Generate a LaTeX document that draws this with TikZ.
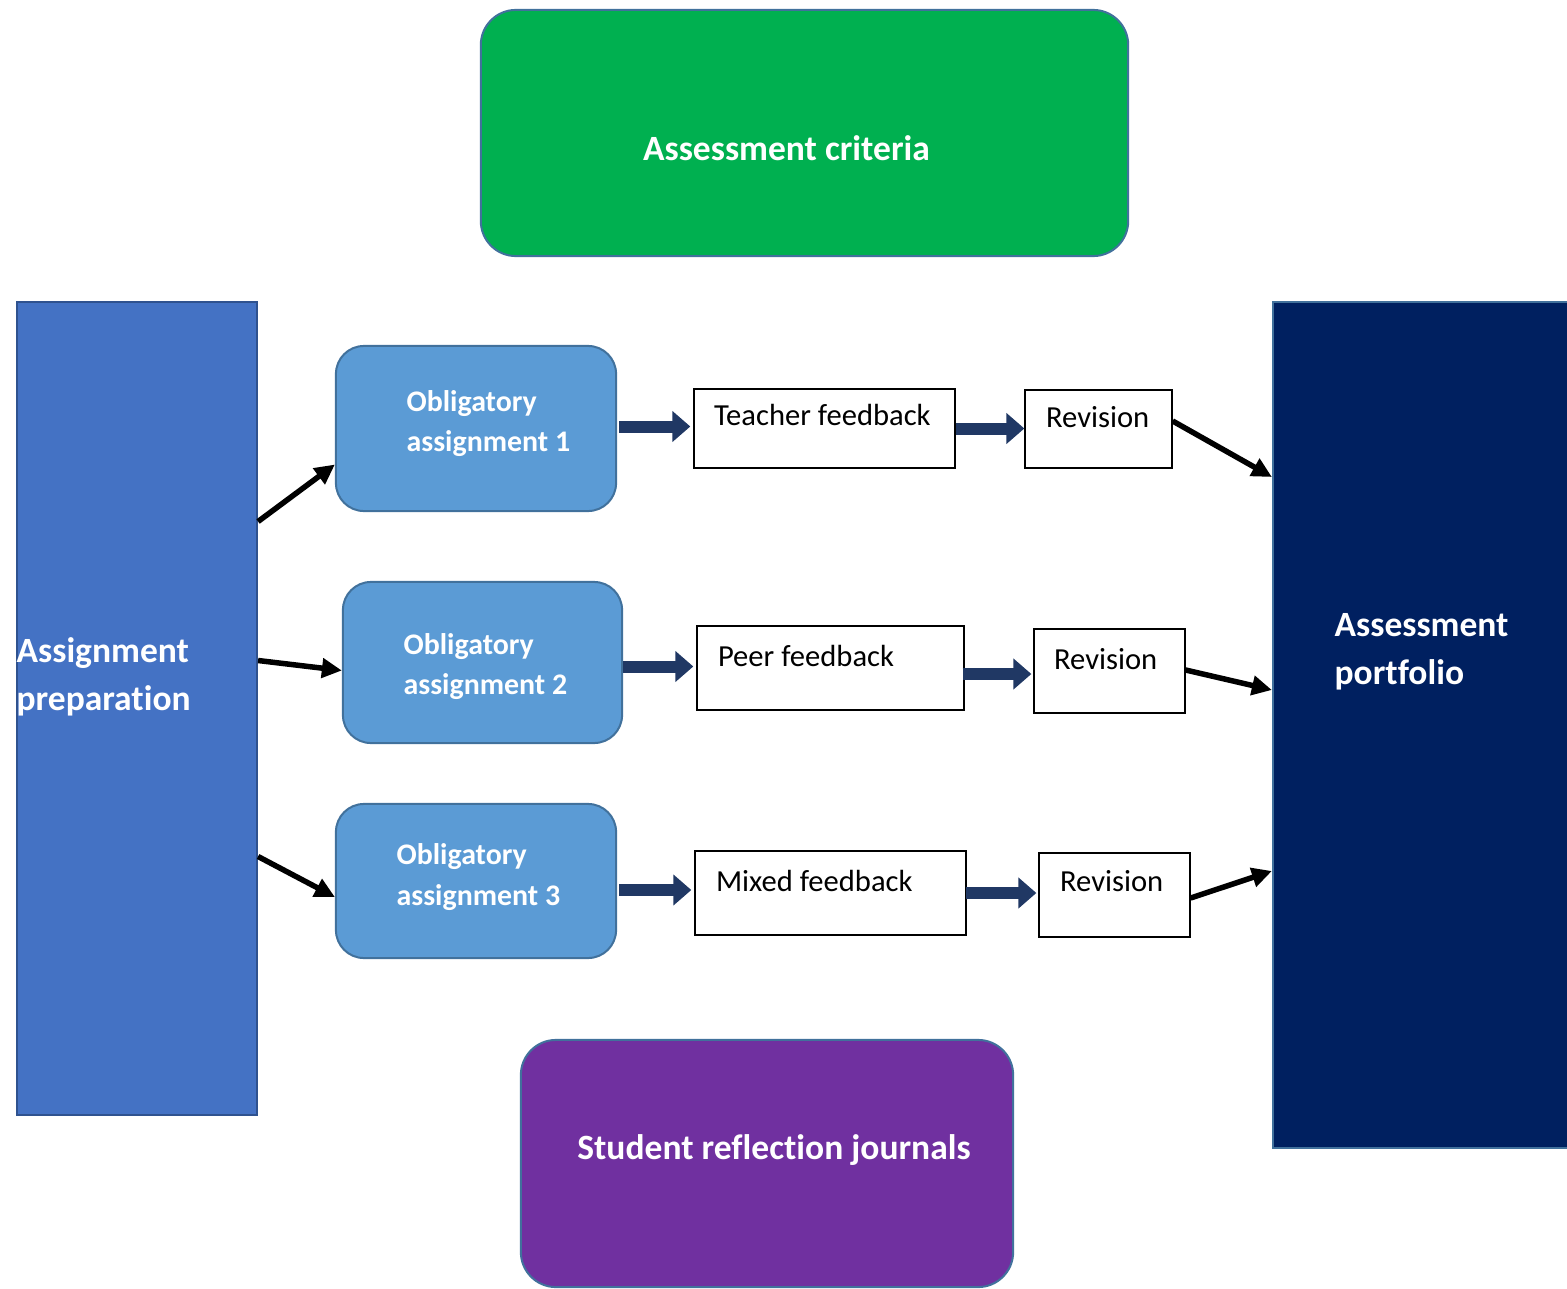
\documentclass[tikz,border=0pt]{standalone}
\usepackage{fontspec}
\setmainfont{Carlito}[Ligatures=NoCommon]
\usepackage{tikz}
\usetikzlibrary{arrows.meta, positioning, calc}
\definecolor{critgreen}{HTML}{00B050}
\definecolor{prepblue}{HTML}{4472C4}
\definecolor{prepedge}{HTML}{2F528F}
\definecolor{portnavy}{HTML}{002060}
\definecolor{journpurple}{HTML}{7030A0}
\definecolor{obblue}{HTML}{5B9BD5}
\definecolor{obedge}{HTML}{41719C}
\definecolor{flownavy}{HTML}{203864}

\begin{document}
\begin{tikzpicture}[x=0.01cm, y=-0.01cm,
    bigbox/.style={rectangle, line width=0.02cm, inner sep=0pt},
    bigtext/.style={text=white, font=\fontsize{10.1}{13.6}\selectfont\bfseries, align=left, inner sep=0pt},
    obbox/.style={rectangle, rounded corners=0.28cm, draw=obedge, fill=obblue, line width=0.02cm, minimum width=2.8cm, inner sep=0pt},
    obtext/.style={text=white, font=\fontsize{8.5}{11.6}\selectfont\bfseries, align=left, inner sep=0pt, anchor=west},
    fbbox/.style={rectangle, draw=black, line width=0.012cm, minimum height=0.84cm, inner sep=0pt},
    fbtext/.style={font=\fontsize{8.7}{10}\selectfont, inner sep=0pt, anchor=west},
    flow/.style={-{Triangle[length=0.18cm, width=0.3cm]}, line width=0.12cm, flownavy},
    link/.style={-{Triangle[length=0.2cm, width=0.19cm]}, line width=0.055cm, black}
]
\useasboundingbox (0,0) rectangle (1567,1288);

% --- Outer blocks ---
\node[bigbox, draw=obedge, fill=critgreen, rounded corners=0.35cm, minimum width=6.47cm, minimum height=2.46cm] (crit) at (804.5,133) {};
\node[bigtext, anchor=center] (crittext) at ($(crit.center)+(-18,15)$) {Assessment criteria};

\node[bigbox, draw=prepedge, fill=prepblue, minimum width=2.4cm, minimum height=8.13cm] (prep) at (137,708.5) {};
\node[bigtext, anchor=west] (preptext) at ($(prep.west)+(0,-32)$) {Assignment\\preparation};

\node[bigbox, draw=obedge, fill=portnavy, minimum width=2.96cm, minimum height=8.46cm] (port) at (1421,725) {};
\node[bigtext, anchor=west] (porttext) at ($(port.west)+(62,-73)$) {Assessment\\portfolio};

\node[bigbox, draw=obedge, fill=journpurple, rounded corners=0.35cm, minimum width=4.92cm, minimum height=2.47cm] (journ) at (767,1163.5) {};
\node[bigtext, anchor=center] (journtext) at ($(journ.center)+(7,-13)$) {Student reflection journals};

% --- Obligatory assignments ---
\node[obbox, minimum height=1.65cm] (ob1) at (476,428.5) {};
\node[obtext] (ob1text) at ($(ob1.west)+(71,-5)$) {Obligatory\\assignment 1};
\node[obbox, minimum width=2.79cm, minimum height=1.61cm] (ob2) at (482.5,662.5) {};
\node[obtext] (ob2text) at ($(ob2.west)+(61,4)$) {Obligatory\\assignment 2};
\node[obbox, minimum height=1.54cm] (ob3) at (476,881) {};
\node[obtext] (ob3text) at ($(ob3.west)+(61,-4)$) {Obligatory\\assignment 3};

% --- Feedback and revision ---
\node[fbbox, minimum width=2.61cm, minimum height=0.79cm] (tf) at (824.5,428.5) {};
\node[fbtext] (tftext) at ($(tf.north west)+(20,27)$) {Teacher feedback};
\node[fbbox, minimum width=1.47cm, minimum height=0.78cm] (rev1) at (1098.5,429) {};
\node[fbtext] (rev1text) at ($(rev1.north west)+(21,28)$) {Revision};

\node[fbbox, minimum width=2.67cm] (pf) at (830.5,668) {};
\node[fbtext] (pftext) at ($(pf.north west)+(21,31)$) {Peer feedback};
\node[fbbox, minimum width=1.51cm] (rev2) at (1109.5,671) {};
\node[fbtext] (rev2text) at ($(rev2.north west)+(20,31)$) {Revision};

\node[fbbox, minimum width=2.71cm] (mf) at (830.5,893) {};
\node[fbtext] (mftext) at ($(mf.north west)+(21,31)$) {Mixed feedback};
\node[fbbox, minimum width=1.51cm] (rev3) at (1114.5,895) {};
\node[fbtext] (rev3text) at ($(rev3.north west)+(21,29)$) {Revision};

% --- Block arrows ---
\draw[flow] ($(ob1.east)+(2,-2)$) -- ($(ob1.east -| tf.west)+(-3,-2)$);
\draw[flow] (tf.east) -- (tf.east -| rev1.west);
\draw[flow] ($(ob2.east)+(0,4)$) -- ($(ob2.east -| pf.west)+(-3,4)$);
\draw[flow] ($(pf.east)+(-2,6)$) -- ($(pf.east -| rev2.west)+(-2,6)$);
\draw[flow] ($(ob3.east)+(2,9)$) -- ($(ob3.east -| mf.west)+(-3,9)$);
\draw[flow] ($(mf.east)+(-1,0)$) -- ($(mf.east -| rev3.west)+(-2,0)$);

% --- Links in and out ---
\draw[link] ($(prep.east)+(0,-187)$) -- ($(ob1.west)+(0,36)$);
\draw[link] ($(prep.east)+(0,-48)$) -- ($(ob2.west)+(0,8)$);
\draw[link] ($(prep.east)+(0,148)$) -- ($(ob3.west)+(0,16)$);
\draw[link] ($(rev1.east)+(0,-8)$) -- ($(port.west)+(0,-248)$);
\draw[link] ($(rev2.east)+(0,-1)$) -- ($(port.west)+(0,-35)$);
\draw[link] ($(rev3.east)+(0,3)$) -- ($(port.west)+(0,146)$);
\end{tikzpicture}
\end{document}
